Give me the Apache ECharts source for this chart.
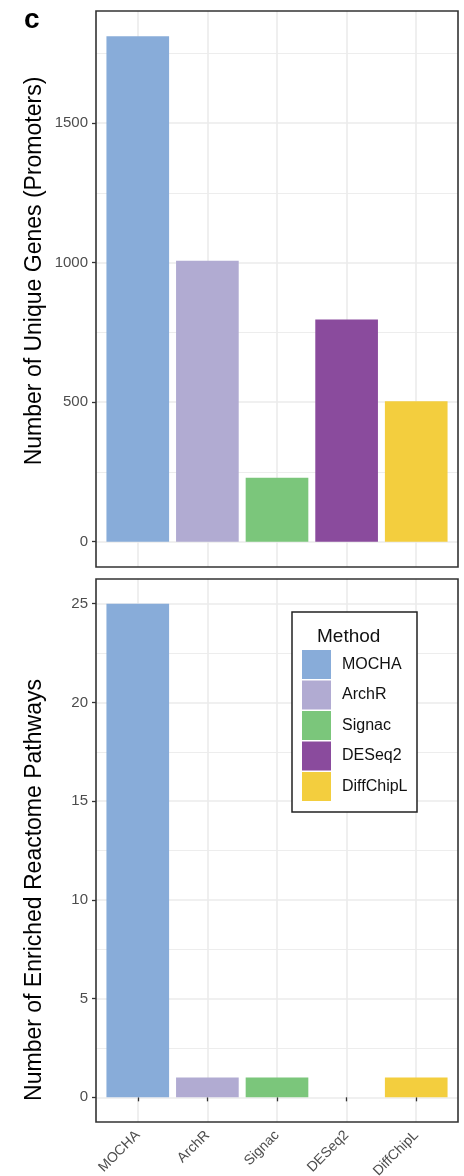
<!DOCTYPE html>
<html><head><meta charset="utf-8">
<script src="https://cdn.jsdelivr.net/npm/echarts@6/dist/echarts.min.js"></script>
<style>html,body{margin:0;padding:0;background:#fff}#c{width:464px;height:1176px}</style>
</head><body><div id="c"></div>
<script>
const methods = ['MOCHA', 'ArchR', 'Signac', 'DESeq2', 'DiffChipL'];
const uniqueGenes = [1811, 1007, 229, 796, 503];
const pathways = [25, 1, 1, 0, 1];
const colors = ['#88acd9', '#b1abd2', '#7bc67b', '#8a4b9d', '#f3ce3e'];
const genesTicks = [0, 500, 1000, 1500];
const genesMinor = [250, 750, 1250, 1750];
const pathTicks = [0, 5, 10, 15, 20, 25];
const pathMinor = [2.5, 7.5, 12.5, 17.5, 22.5];
const titleTop = 'Number of Unique Genes (Promoters)';
const titleBottom = 'Number of Enriched Reactome Pathways';
const legendTitle = 'Method';
const panelLabel = 'c';

const FONT = '"Liberation Sans", Arial, Helvetica, sans-serif';
const P1 = {left: 96, top: 11, width: 362, height: 556};
const P2 = {left: 96, top: 579, width: 362, height: 543};
function inner(p) { const pad = p.width * 0.1 / 5.2; return {left: p.left + pad, top: p.top, width: p.width - 2 * pad, height: p.height}; }
function gridOf(p) { return Object.assign({outerBoundsMode: 'none', containLabel: false}, p); }
function range(arr) { const mx = Math.max(...arr); return [-mx * 0.05, mx * 1.05]; }
const r1 = range(uniqueGenes), r2 = range(pathways);
const GRID = '#ebebeb';

function hLines(major, minor) {
  return major.map(v => ({yAxis: v, lineStyle: {width: 1.6, color: GRID, type: 'solid'}}))
    .concat(minor.map(v => ({yAxis: v, lineStyle: {width: 0.9, color: GRID, type: 'solid'}})));
}
function vLines() {
  return methods.map(m => ({xAxis: m, lineStyle: {width: 1.6, color: GRID, type: 'solid'}}));
}
function gridSeries(xi, yi, lines) {
  return {type: 'line', xAxisIndex: xi, yAxisIndex: yi, data: [], z: 0, silent: true,
    markLine: {z: 0, silent: true, symbol: ['none', 'none'], label: {show: false}, animation: false, data: lines}};
}
function barSeries(values, xi, yi, stack) {
  return methods.map((m, i) => ({
    type: 'bar', name: m, xAxisIndex: xi, yAxisIndex: yi, stack: stack, barWidth: '90%', z: 2,
    itemStyle: {color: colors[i]},
    data: methods.map((mm, j) => j === i ? values[j] : '-')
  }));
}
function yAxis(gi, r, ticks, show) {
  return {type: 'value', gridIndex: gi, min: r[0], max: r[1],
    axisLine: {show: false}, splitLine: {show: false},
    axisTick: {show: show, customValues: ticks, length: 4, lineStyle: {color: '#333', width: 1.3}},
    axisLabel: {show: show, customValues: ticks, fontSize: 15, color: '#4d4d4d', margin: 8, fontFamily: FONT,
      formatter: v => String(v)}};
}

const chart = echarts.init(document.getElementById('c'), null, {renderer: 'canvas'});
chart.setOption({
  animation: false,
  backgroundColor: '#fff',
  textStyle: {fontFamily: FONT},
  grid: [gridOf(P1), gridOf(inner(P1)), gridOf(P2), gridOf(inner(P2))],
  xAxis: [
    {type: 'value', gridIndex: 0, min: 0, max: 1, show: false},
    {type: 'category', gridIndex: 1, data: methods, axisLine: {show: false}, axisTick: {show: false}, axisLabel: {show: false}, splitLine: {show: false}},
    {type: 'value', gridIndex: 2, min: 0, max: 1, show: false},
    {type: 'category', gridIndex: 3, data: methods, axisLine: {show: false},
      axisTick: {show: true, alignWithLabel: true, length: 4, lineStyle: {color: '#333', width: 1.3}},
      axisLabel: {rotate: 45, fontSize: 14, color: '#4d4d4d', margin: 11, interval: 0, fontFamily: FONT},
      splitLine: {show: false}}
  ],
  yAxis: [
    yAxis(0, r1, genesTicks, true), yAxis(1, r1, genesTicks, false),
    yAxis(2, r2, pathTicks, true), yAxis(3, r2, pathTicks, false)
  ],
  legend: {
    z: 10,
    data: methods, orient: 'vertical', left: 302, top: 650, itemWidth: 29, itemHeight: 29, itemGap: 1.5,
    icon: 'rect', selectedMode: false, padding: 0,
    textStyle: {fontSize: 16, color: '#111', fontFamily: FONT, padding: [0, 0, 0, 6]}
  },
  series: [
    gridSeries(0, 0, hLines(genesTicks, genesMinor)),
    gridSeries(1, 1, vLines()),
    gridSeries(2, 2, hLines(pathTicks, pathMinor)),
    gridSeries(3, 3, vLines())
  ].concat(barSeries(uniqueGenes, 1, 1, 'top'), barSeries(pathways, 3, 3, 'bottom')),
  graphic: [
    {type: 'rect', z: 100, shape: {x: P1.left, y: P1.top, width: P1.width, height: P1.height}, style: {fill: 'none', stroke: '#333', lineWidth: 1.6}},
    {type: 'rect', z: 100, shape: {x: P2.left, y: P2.top, width: P2.width, height: P2.height}, style: {fill: 'none', stroke: '#333', lineWidth: 1.6}},
    {type: 'rect', z: 3, shape: {x: 292, y: 612, width: 125, height: 200}, style: {fill: '#fff', stroke: '#222', lineWidth: 1.5}},
    {type: 'text', z: 101, x: 317, y: 637, style: {text: legendTitle, fontSize: 19, fontFamily: FONT, fill: '#111', align: 'left', verticalAlign: 'middle'}},
    {type: 'text', z: 101, x: 24, y: 20, style: {text: panelLabel, fontSize: 28, fontWeight: 'bold', fontFamily: FONT, fill: '#000', align: 'left', verticalAlign: 'middle'}},
    {type: 'text', z: 101, x: 35, y: 271, rotation: Math.PI / 2, style: {text: titleTop, fontSize: 23, fontFamily: FONT, fill: '#000', align: 'center', verticalAlign: 'middle'}},
    {type: 'text', z: 101, x: 35, y: 890, rotation: Math.PI / 2, style: {text: titleBottom, fontSize: 23, fontFamily: FONT, fill: '#000', align: 'center', verticalAlign: 'middle'}}
  ]
});
</script></body></html>
